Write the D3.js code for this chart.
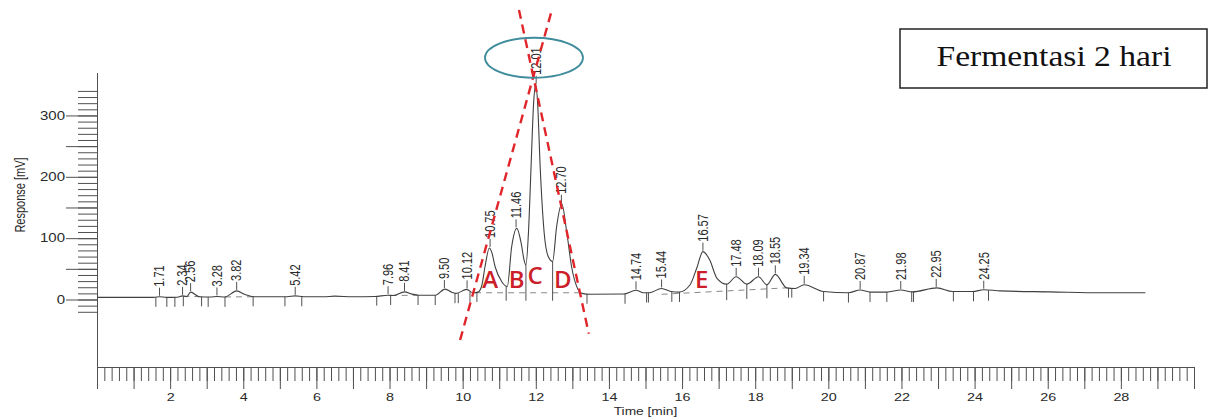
<!DOCTYPE html>
<html>
<head>
<meta charset="utf-8">
<script src="https://cdn.jsdelivr.net/npm/d3@7"></script>
<style>
body{margin:0;background:#fff;}
</style>
</head>
<body>
<svg id="chart" width="1210" height="419"></svg>
<script>
// chromatogram trace: [time min, response mV]
var trace = [
  [0.00,3.5],[1.55,3.5],[1.71,4.5],[1.90,3.5],[2.20,3.8],[2.34,6],[2.45,4.5],[2.56,12],
  [2.80,4.5],[3.10,4],[3.28,5],[3.50,4.2],[3.82,14],[4.05,8],[4.30,4.5],[5.20,4.5],
  [5.42,6],[5.65,4.5],[6.20,4.5],[6.50,5.5],[7.00,4.5],[7.60,5],[7.96,7],[8.10,6.5],
  [8.41,12.5],[8.60,9],[8.80,7],[9.25,7],[9.52,17],[9.70,12],[9.82,10],[10.11,16.5],
  [10.28,11],[10.42,12],[10.52,22],[10.61,53],[10.73,84],[10.80,76],[10.89,53],[11.07,29],
  [11.22,21],[11.34,86],[11.48,116],[11.60,92],[11.68,64],[11.73,56],[11.80,110],[11.87,216],
  [11.94,320],[12.00,350],[12.05,320],[12.12,216],[12.23,108],[12.34,70],[12.46,62],[12.57,119],
  [12.71,156],[12.85,108],[12.98,53],[13.12,21],[13.26,10],[13.50,8.5],[14.40,9],[14.74,15],
  [14.95,11],[15.10,11],[15.44,18],[15.70,13],[15.92,12],[16.22,24],[16.40,51],[16.57,78],
  [16.76,64],[16.95,35],[17.22,25],[17.48,37],[17.77,25],[18.09,37],[18.32,24],[18.55,41],
  [18.86,19],[19.09,18],[19.34,24],[19.87,13],[20.55,11],[20.87,15.5],[21.15,12],[21.60,12],
  [21.98,15.5],[22.30,12.5],[22.97,19],[23.40,13],[23.95,13],[24.25,16],[24.70,14],[26.07,12.5],
  [27.50,11],[28.67,11]
];

// peak retention labels and the apex height they sit on
var peakLabels  = ["1.71","2.34","2.56","3.28","3.82","5.42","7.96","8.41","9.50","10.12","10.75","11.46","12.01","12.70",
                   "14.74","15.44","16.57","17.48","18.09","18.55","19.34","20.87","21.98","22.95","24.25"];
var peakHeights = [4.5,6,12,5,14,6,7,12.5,17,16.5,84,116,350,156,15,18,78,37,37,41,24,15.5,15.5,19,16];

// integration markers: [time, top mV, bottom mV]
var markers = [
  [1.61,3.5,-12],[1.91,3.5,-12],[2.13,3.7,-12],[2.36,5.5,-11],[2.86,4.5,-11],[3.04,4,-12],[3.50,4.2,-12],
  [4.27,4.5,-11],[5.14,4.5,-11],[5.60,4.5,-11],[7.65,5,-10],[8.03,6.5,-9],[8.78,7,-9],[9.25,7,-9],
  [9.79,10,-6],[9.88,10.5,-6],[10.20,13,-4],[10.39,12,-4],[11.19,21,-2],[11.73,56,-2],[12.46,62,-2],
  [13.40,9,-7],[14.44,9,-7],[15.03,11,-5],[15.08,11,-5],[15.72,13,-4],[15.93,12,-4],[17.22,25,-1],
  [17.77,25,1],[18.32,24,2],[18.91,19,3],[19.00,18.5,3],[19.87,13,-3],[20.55,11,-5],[21.14,12,-4],
  [21.60,12,-4],[22.28,12.5,-4],[22.33,12.5,-4],[23.42,13,-3],[23.97,13,-3],[24.38,15,-2]
];

// dashed integration baselines
var baselines = [
  [[2.36,5.5],[2.86,4.5]],
  [[3.50,4.2],[4.27,4.5]],
  [[8.03,6.5],[8.78,7]],
  [[10.34,11],[13.20,11]],
  [[15.44,8.5],[18.86,19]]
];

// red annotations
var letters     = ["A","B","C","D","E"];
var letterTimes = [10.75,11.48,11.98,12.74,16.54];
var letterMv    = [18,18,26,18,18];
var redLines = [
  [[9.93,-66],[12.44,472]],
  [[11.54,472],[13.45,-56]]
];
var ellipseCenter = [11.95,394];
var ellipseRadius = [1.34,32.6];   // min, mV

var xMinor  = d3.range(0, 30.001, 0.2);
var xMajor  = d3.range(0, 31, 1);
var xLabels = [2,4,6,8,10,12,14,16,18,20,22,24,26,28];
var yMinor  = d3.range(-20, 341, 10);
var yMajor  = [0,50,100,150,200,250,300];
var yLabels = [0,100,200,300];

var boxTitle = "Fermentasi 2 hari";

var svg = d3.select("#chart");
var x = d3.scaleLinear().domain([0,30]).range([97,1194]);
var y = d3.scaleLinear().domain([-110,370]).range([367,72.5]);
var stretch = " scale(1.25,1)";
var ink = "#505050";
var textInk = "#2a2a2a";

// x axis
var gx = svg.append("g").attr("transform","translate(0,"+y(-110)+")");
gx.call(d3.axisBottom(x).tickValues(xMinor).tickSize(14).tickSizeOuter(0).tickFormat(""));
var gx2 = svg.append("g").attr("transform","translate(0,"+y(-110)+")");
gx2.call(d3.axisBottom(x).tickValues(xMajor).tickSize(22).tickSizeOuter(0)
    .tickFormat(function(d){ return xLabels.indexOf(d) >= 0 ? d : ""; }));
gx2.selectAll("text")
    .attr("y", 26).attr("dy","0.71em")
    .attr("transform", "scale(1.25,1)")
    .style("font","11.5px 'Liberation Sans', Arial, sans-serif").style("fill",textInk);

// y axis
var gy = svg.append("g").attr("transform","translate("+x(0)+",0)");
gy.call(d3.axisLeft(y).tickValues(yMinor).tickSize(19).tickSizeOuter(0).tickFormat(""));
var gy2 = svg.append("g").attr("transform","translate("+x(0)+",0)");
gy2.call(d3.axisLeft(y).tickValues(yMajor).tickSize(31).tickSizeOuter(0).tickFormat(""));

svg.selectAll(".domain, .tick line").style("stroke", ink).style("stroke-width", 1);

svg.append("g").selectAll("text").data(yLabels).enter().append("text")
    .attr("transform", function(d){ return "translate(65,"+y(d)+")"+stretch; })
    .attr("dy","0.35em")
    .attr("text-anchor","end")
    .style("font","12px 'Liberation Sans', Arial, sans-serif").style("fill",textInk)
    .text(function(d){ return d; });

// axis titles
svg.append("text")
    .attr("transform","translate(25,195)"+stretch+" rotate(-90)")
    .attr("text-anchor","middle")
    .style("font","11px 'Liberation Sans', Arial, sans-serif").style("fill",textInk)
    .text("Response [mV]");
svg.append("text")
    .attr("transform","translate("+x(15)+",415)"+stretch)
    .attr("text-anchor","middle")
    .style("font","11px 'Liberation Sans', Arial, sans-serif").style("fill",textInk)
    .text("Time [min]");

// dashed baselines
svg.append("g").selectAll("path").data(baselines).enter().append("path")
    .attr("d", d3.line().x(function(d){ return x(d[0]); }).y(function(d){ return y(d[1]); }))
    .style("fill","none").style("stroke","#888").style("stroke-width",1)
    .style("stroke-dasharray","6,5");

// integration markers
svg.append("g").selectAll("line").data(markers).enter().append("line")
    .attr("x1", function(d){ return x(d[0]); }).attr("x2", function(d){ return x(d[0]); })
    .attr("y1", function(d){ return y(d[1]); }).attr("y2", function(d){ return y(d[2]); })
    .style("stroke", ink).style("stroke-width",1);

// the trace
var valueline = d3.line()
    .x(function(d){ return x(d[0]); })
    .y(function(d){ return y(d[1]); })
    .curve(d3.curveMonotoneX);
svg.append("path")
    .datum(trace)
    .attr("d", valueline)
    .style("fill","none").style("stroke","#404040").style("stroke-width",1.1);

// peak labels
var pk = svg.append("g").selectAll("g").data(peakLabels).enter().append("g");
pk.append("line")
    .attr("x1", function(d){ return x(+d); }).attr("x2", function(d){ return x(+d); })
    .attr("y1", function(d,i){ return y(peakHeights[i]) - 1; })
    .attr("y2", function(d,i){ return y(peakHeights[i]) - 9; })
    .style("stroke", ink).style("stroke-width",1);
pk.append("text")
    .attr("transform", function(d,i){ return "translate("+x(+d)+","+(y(peakHeights[i]) - 10)+")"+stretch+" rotate(-90)"; })
    .attr("dy","0.35em")
    .style("font","11px 'Liberation Sans', Arial, sans-serif").style("fill",textInk)
    .text(function(d){ return d; });

// red dashed tangent lines
svg.append("g").selectAll("path").data(redLines).enter().append("path")
    .attr("d", d3.line().x(function(d){ return x(d[0]); }).y(function(d){ return y(d[1]); }))
    .style("fill","none").style("stroke","#e0262b").style("stroke-width",2.4)
    .style("stroke-dasharray","9,6");

// ellipse around the main peak
svg.append("ellipse")
    .attr("cx", x(ellipseCenter[0])).attr("cy", y(ellipseCenter[1]))
    .attr("rx", x(ellipseCenter[0] + ellipseRadius[0]) - x(ellipseCenter[0]))
    .attr("ry", y(ellipseCenter[1] - ellipseRadius[1]) - y(ellipseCenter[1]))
    .style("fill","none").style("stroke","#3f8c9c").style("stroke-width",1.8);

// red letters
svg.append("g").selectAll("text").data(letters).enter().append("text")
    .attr("x", function(d,i){ return x(letterTimes[i]); })
    .attr("y", function(d,i){ return y(letterMv[i]); })
    .attr("text-anchor","middle")
    .style("font","600 24px 'Open Sans', sans-serif").style("fill","#cc1f2a")
    .text(function(d){ return d; });

// title box
svg.append("rect")
    .attr("x",900).attr("y",29).attr("width",307).attr("height",59)
    .style("fill","#fff").style("stroke","#222").style("stroke-width",1.5);
svg.append("text")
    .attr("transform","translate(1054,66) scale(1.12,1)")
    .attr("text-anchor","middle")
    .style("font","30px 'Liberation Serif', 'Times New Roman', serif").style("fill","#111")
    .text(boxTitle);
</script>
</body>
</html>
